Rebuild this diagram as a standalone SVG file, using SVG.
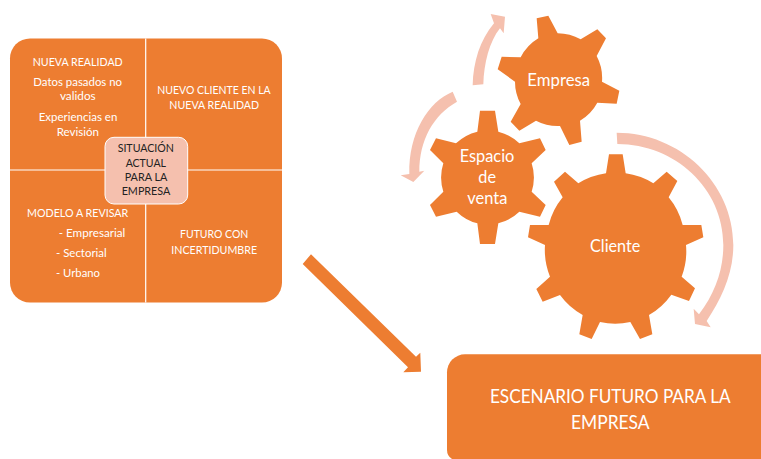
<svg xmlns="http://www.w3.org/2000/svg" width="761" height="459" viewBox="0 0 761 459">
<style>
text{font-family:"Lato","Carlito","Liberation Sans",sans-serif;fill:#fff}
.s{font-size:11.5px;text-anchor:middle}
.l{font-size:11.5px}
.c{font-size:11.5px;text-anchor:middle;fill:#222}
.g{font-size:17.5px;text-anchor:middle}
.b{font-size:18.5px;text-anchor:middle}
.o{fill:#ED7D31}
.p{fill:#F5C0AE}
</style>
<rect width="761" height="459" fill="#fff"/>
<g id="connectors">
<path class="p" transform="translate(510 120) scale(.33333)" d="M320,38C510,38 670,190 670,375C670,460 635,535 590,603L602,622L555,612L551,566L567,583C615,520 640,450 640,375C640,205 495,72 322,72Z"/>
<path class="p" transform="translate(390 0) scale(.33333)" d="M248,256C250,185 270,120 312,70L302,42L345,50L341,100L330,85C298,125 282,190 280,253Z"/>
<path class="p" transform="translate(390 0) scale(.33333)" d="M188,275C115,305 55,400 58,522L32,526L70,546L103,512L88,515C88,420 130,345 201,305Z"/>
<polygon class="o" points="302.7,264 311,254.3 416,356.7 420.3,352.7 421,371.7 403.3,372.3 408,367.3"/>
</g>
<g id="node-cuadrantes">
<rect class="o" x="10" y="38.5" width="272" height="264" rx="20"/>
<path d="M145.7,38.5V302.5M10,170H282" stroke="#fff" stroke-width="1.2" fill="none"/>
<text class="s" x="77.7" y="65.7" textLength="90" lengthAdjust="spacingAndGlyphs">NUEVA REALIDAD</text>
<text class="s" x="77.7" y="85.7" textLength="88.7" lengthAdjust="spacingAndGlyphs">Datos pasados no</text>
<text class="s" x="77.8" y="100" textLength="35.7" lengthAdjust="spacingAndGlyphs">validos</text>
<text class="s" x="78" y="120.7" textLength="78.7" lengthAdjust="spacingAndGlyphs">Experiencias en</text>
<text class="s" x="77.8" y="135.7" textLength="42.3" lengthAdjust="spacingAndGlyphs">Revisión</text>
<text class="s" x="214" y="94" textLength="113.3" lengthAdjust="spacingAndGlyphs">NUEVO CLIENTE EN LA</text>
<text class="s" x="214.2" y="109" textLength="89.7" lengthAdjust="spacingAndGlyphs">NUEVA REALIDAD</text>
<text class="l" x="27" y="216.7" textLength="101.3" lengthAdjust="spacingAndGlyphs">MODELO A REVISAR</text>
<text class="l" x="58.7" y="236.7" textLength="66.7" lengthAdjust="spacingAndGlyphs">- Empresarial</text>
<text class="l" x="56" y="257" textLength="50.7" lengthAdjust="spacingAndGlyphs">- Sectorial</text>
<text class="l" x="56" y="277" textLength="44" lengthAdjust="spacingAndGlyphs">- Urbano</text>
<text class="s" x="214.2" y="238" textLength="68.3" lengthAdjust="spacingAndGlyphs">FUTURO CON</text>
<text class="s" x="214.2" y="254" textLength="85.7" lengthAdjust="spacingAndGlyphs">INCERTIDUMBRE</text>
</g>
<g id="node-situacion">
<rect class="p" x="105" y="137.3" width="82.7" height="66.7" rx="9" stroke="#fff" stroke-width="1"/>
<text class="c" x="145.8" y="151.7" textLength="56.3" lengthAdjust="spacingAndGlyphs">SITUACIÓN</text>
<text class="c" x="145.8" y="166.7" textLength="40.3" lengthAdjust="spacingAndGlyphs">ACTUAL</text>
<text class="c" x="146" y="181" textLength="42.7" lengthAdjust="spacingAndGlyphs">PARA LA</text>
<text class="c" x="146" y="195" textLength="48.7" lengthAdjust="spacingAndGlyphs">EMPRESA</text>
</g>
<g id="node-empresa">
<path class="o" transform="translate(390 0) scale(.33333)" d="M445,115L440,55L475,47L503,100A140,140 0 0 1 572,118L622,88L648,115L620,168A140,140 0 0 1 636,245L688,272L680,311L622,308A140,140 0 0 1 570,362L575,425L538,435L510,378A140,140 0 0 1 438,362L388,392L362,365L392,312A140,140 0 0 1 375,245L323,208L335,170L392,172A140,140 0 0 1 445,115Z"/>
<text class="g" x="558.7" y="86" textLength="62.7" lengthAdjust="spacingAndGlyphs">Empresa</text>
</g>
<g id="node-espacio">
<path class="o" transform="translate(390 0) scale(.33333)" d="M262,395L270,332H315L325,395A140,140 0 0 1 388,430L450,415L467,450L425,490A140,140 0 0 1 425,575L467,615L450,650L388,635A140,140 0 0 1 325,670L315,732H270L262,670A140,140 0 0 1 200,635L138,650L120,615L160,575A140,140 0 0 1 160,490L120,450L138,415L198,430A140,140 0 0 1 262,395Z"/>
<text class="g" x="487" y="161.7" textLength="54.7" lengthAdjust="spacingAndGlyphs">Espacio</text>
<text class="g" x="487.2" y="182.7" textLength="17.7" lengthAdjust="spacingAndGlyphs">de</text>
<text class="g" x="487.3" y="204" textLength="40" lengthAdjust="spacingAndGlyphs">venta</text>
</g>
<g id="node-cliente">
<path class="o" transform="translate(510 120) scale(.33333)" d="M288,160L297,103H338L347,160A213,213 0 0 1 430,190L470,155L502,183L476,232A213,213 0 0 1 518,315L574,315L580,352L528,375A213,213 0 0 1 515,470L555,505L537,543L484,524A213,213 0 0 1 417,585L427,643L390,657L361,606A213,213 0 0 1 270,606L245,657L208,643L218,585A213,213 0 0 1 150,525L98,545L79,507L120,470A213,213 0 0 1 105,375L54,352L60,315L116,315A213,213 0 0 1 158,232L132,185L165,155L205,190A213,213 0 0 1 288,160Z"/>
<text class="g" x="615.2" y="251.7" textLength="50.3" lengthAdjust="spacingAndGlyphs">Cliente</text>
</g>
<g id="node-escenario">
<path class="o" d="M465,354.3H761V459H452Q447,456 447,450V372.3A18,18 0 0 1 465,354.3Z"/>
<text class="b" x="610.3" y="403" textLength="240.7" lengthAdjust="spacingAndGlyphs">ESCENARIO FUTURO PARA LA</text>
<text class="b" x="610.3" y="429" textLength="78.7" lengthAdjust="spacingAndGlyphs">EMPRESA</text>
</g>
</svg>
